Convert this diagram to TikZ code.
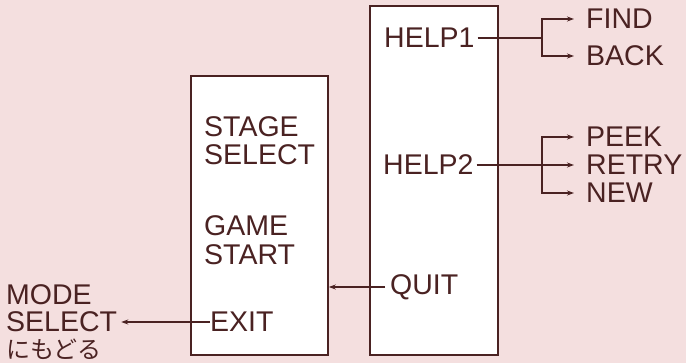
\documentclass[tikz,border=0pt]{standalone}
\usepackage{fontspec}
\setmainfont{Liberation Sans}
\newfontfamily\jpfont{Noto Sans CJK JP}
\usepackage{xcolor}
\usetikzlibrary{arrows.meta}
\definecolor{paper}{HTML}{F4DFDF}
\definecolor{ink}{HTML}{4A2222}

\begin{document}
\begin{tikzpicture}[x=1pt,y=-1pt,
  menu/.style={draw=ink,line width=1.6pt,fill=white,inner sep=0pt},
  word/.style={anchor=west,inner sep=0pt,text=ink,font=\fontsize{28.5}{28.5}\selectfont},
  wire/.style={ink,line width=1.4pt},
  arr/.style={wire,-{Stealth[length=7pt,width=5pt]}}]
\fill [paper] (0,0) rectangle (686,363);
\useasboundingbox (0,0) rectangle (686,363);

\node [menu,minimum width=137pt,minimum height=279pt] (lbox) at (259.5,215.5) {};
\node [menu,minimum width=128pt,minimum height=349pt] (rbox) at (434,180.5) {};

\node [word] (stage) at (204,127) {STAGE};
\node [word] (stsel) at (204,155) {SELECT};
\node [word] (game) at (204,226) {GAME};
\node [word] (start) at (204,255) {START};
\node [word] (exit) at (210,322) {EXIT};

\node [word] (help1) at (384,38) {HELP1};
\node [word] (help2) at (383,165) {HELP2};
\node [word] (quit) at (390,287) {QUIT};

\node [word] (find) at (586,19) {FIND};
\node [word] (back) at (586,56) {BACK};
\node [word] (peek) at (586,137) {PEEK};
\node [word] (retry) at (586,165) {RETRY};
\node [word] (new) at (586,193) {NEW};

\node [word] (mode) at (6,295) {MODE};
\node [word] (mdsel) at (6,322) {SELECT};
\node [word,font=\jpfont\fontsize{24}{24}\selectfont] (modejp) at (6,349) {にもどる};

\coordinate (b1) at (542,38);
\coordinate (b2) at (542,165);

\draw [wire] ([xshift=3pt]help1.east) -- (b1);
\draw [arr,shorten >=12pt] (b1) |- (find.west);
\draw [arr,shorten >=12pt] (b1) |- (back.west);

\draw [wire] ([xshift=3pt]help2.east) -- (b2);
\draw [arr,shorten >=12pt] (b2) |- (peek.west);
\draw [arr,shorten >=12pt] (b2) -- (retry.west);
\draw [arr,shorten >=12pt] (b2) |- (new.west);

\draw [arr,shorten <=5pt] (quit.west) -- (quit.west -| lbox.east);
\draw [arr,shorten >=4pt] (exit.west) -- (mdsel.east);
\end{tikzpicture}
\end{document}
